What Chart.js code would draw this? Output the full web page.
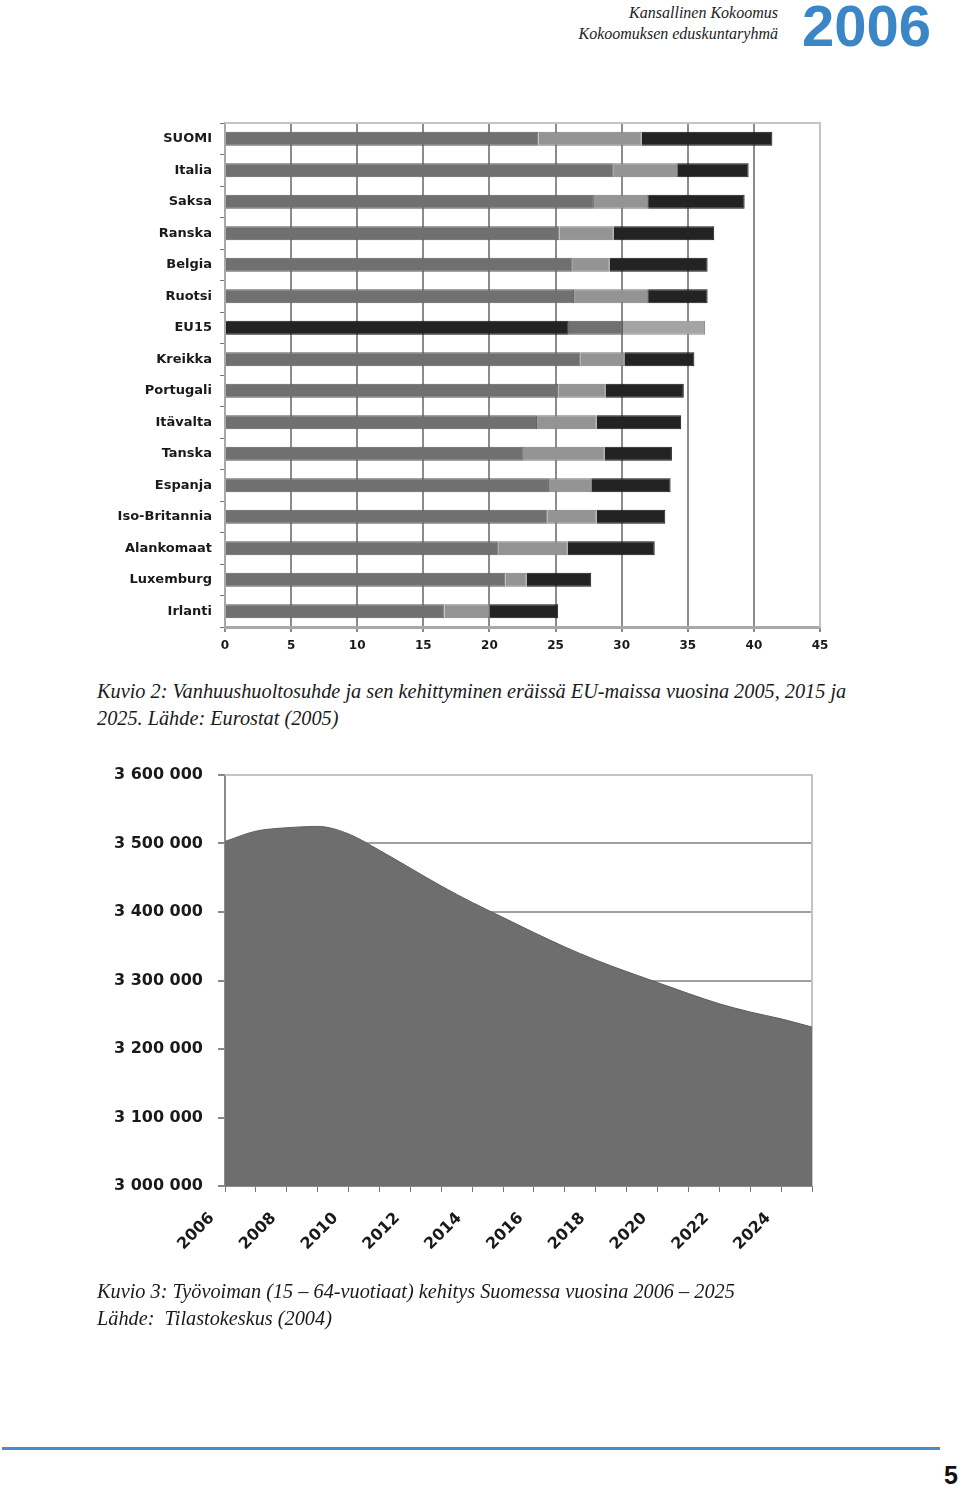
<!DOCTYPE html>
<html lang="fi">
<head>
<meta charset="utf-8">
<title>Kuvio 2 ja Kuvio 3</title>
<script src="https://cdn.jsdelivr.net/npm/chart.js@4.4.1/dist/chart.umd.min.js"></script>
<style>
  body { margin: 0; background: #fff; width: 960px; height: 1486px; position: relative; overflow: hidden; }
  .hdr { position: absolute; right: 182px; font-family: "Liberation Serif", serif; font-style: italic;
         font-size: 16px; line-height: 21px; color: #222; white-space: nowrap; }
  .year { position: absolute; left: 802px; top: -3px; font-family: "Liberation Sans", sans-serif;
          font-weight: bold; font-size: 58px; line-height: 57px; color: #3a86c6; }
  .caption { position: absolute; left: 97px; font-family: "Liberation Serif", serif; font-style: italic;
             font-size: 20.3px; line-height: 27px; color: #1a1a1a; white-space: nowrap; }
  .box { position: absolute; }
  .rule { position: absolute; left: 2px; top: 1447px; width: 938px; height: 3px; background: #4a8bc8; }
  .page { position: absolute; right: 2px; top: 1463px; font-family: "Liberation Sans", sans-serif;
          font-weight: bold; font-size: 25px; line-height: 25px; color: #111; }
</style>
</head>
<body>

<div class="hdr" style="top:2px">Kansallinen Kokoomus</div>
<div class="hdr" style="top:23px">Kokoomuksen eduskuntaryhmä</div>
<div class="year">2006</div>

<div class="box" style="left:100px; top:110px; width:740px; height:560px;">
  <canvas id="ratioChart"></canvas>
</div>

<div class="caption" style="top:678px">Kuvio 2: Vanhuushuoltosuhde ja sen kehittyminen eräissä EU-maissa vuosina 2005, 2015 ja<br>2025. Lähde: Eurostat (2005)</div>

<div class="box" style="left:100px; top:760px; width:740px; height:520px;">
  <canvas id="workChart"></canvas>
</div>

<div class="caption" style="top:1278px">Kuvio 3: Työvoiman (15 – 64-vuotiaat) kehitys Suomessa vuosina 2006 – 2025<br>Lähde:&nbsp; Tilastokeskus (2004)</div>

<div class="rule"></div>
<div class="page">5</div>

<script>
// Kuvio 2: vanhuushuoltosuhde (%), kertyvät arvot 2005 / 2015 / 2025
const countries = ["SUOMI", "Italia", "Saksa", "Ranska", "Belgia", "Ruotsi", "EU15", "Kreikka",
  "Portugali", "Itävalta", "Tanska", "Espanja", "Iso-Britannia", "Alankomaat", "Luxemburg", "Irlanti"];
const ratio2005 = [23.7, 29.4, 27.9, 25.3, 26.3, 26.4, 26.0, 26.9, 25.2, 23.6, 22.6, 24.5, 24.4, 20.7, 21.2, 16.6];
const ratio2015 = [31.5, 34.2, 32.0, 29.4, 29.1, 32.0, 30.1, 30.2, 28.8, 28.1, 28.7, 27.7, 28.1, 25.9, 22.8, 20.0];
const ratio2025 = [41.4, 39.6, 39.3, 37.0, 36.5, 36.5, 36.3, 35.5, 34.7, 34.5, 33.8, 33.7, 33.3, 32.5, 27.7, 25.2];
const ratioTicks = [0, 5, 10, 15, 20, 25, 30, 35, 40, 45];

// Kuvio 3: työvoima 15-64 v.
const years = ["2006", "2007", "2008", "2009", "2010", "2011", "2012", "2013", "2014", "2015",
  "2016", "2017", "2018", "2019", "2020", "2021", "2022", "2023", "2024", "2025"];
const workforce = [3503000, 3518000, 3523000, 3525000, 3514000, 3490000, 3464000, 3438000, 3414000, 3392000,
  3370000, 3349000, 3330000, 3313000, 3297000, 3281000, 3266000, 3254000, 3244000, 3232000];
const workTicks = [3000000, 3100000, 3200000, 3300000, 3400000, 3500000, 3600000];

const tickFont = { family: "DejaVu Sans", weight: "bold", size: 13 };

// thin frame on top and right of the plot area
const plotFrame = {
  id: "plotFrame",
  beforeDatasetsDraw(chart, args, opts) {
    const { ctx, chartArea: a } = chart;
    ctx.save();
    ctx.strokeStyle = opts.color;
    ctx.lineWidth = opts.width;
    ctx.beginPath();
    ctx.moveTo(a.left, a.top);
    ctx.lineTo(a.right, a.top);
    ctx.lineTo(a.right, a.bottom);
    ctx.stroke();
    ctx.restore();
  }
};

// fixed axis sizes so the plot area lands where the layout padding says
function fixY(width) {
  return scale => { scale.width = width; scale.paddingTop = 0; scale.paddingBottom = 0; };
}
function fixX(height) {
  return scale => { scale.height = height; scale.paddingLeft = 0; scale.paddingRight = 0; };
}

const isEU = countries.map(c => c === "EU15");
const step1 = ratio2005;
const step2 = ratio2015.map((v, i) => +(v - ratio2005[i]).toFixed(1));
const step3 = ratio2025.map((v, i) => +(v - ratio2015[i]).toFixed(1));

new Chart(document.getElementById("ratioChart"), {
  type: "bar",
  data: {
    labels: countries,
    datasets: [
      { label: "2005", data: step1, backgroundColor: isEU.map(e => e ? "#232323" : "#707070"),
        borderColor: isEU.map(e => e ? "#151515" : "#5c5c5c"), borderWidth: 1 },
      { label: "2015", data: step2, backgroundColor: isEU.map(e => e ? "#707070" : "#949494"),
        borderColor: isEU.map(e => e ? "#5c5c5c" : "#7a7a7a"), borderWidth: 1 },
      { label: "2025", data: step3, backgroundColor: isEU.map(e => e ? "#a4a4a4" : "#232323"),
        borderColor: isEU.map(e => e ? "#8a8a8a" : "#151515"), borderWidth: 1 }
    ]
  },
  options: {
    indexAxis: "y",
    responsive: true,
    maintainAspectRatio: false,
    animation: false,
    layout: { padding: { top: 13, right: 20, bottom: 0, left: 0 } },
    plugins: {
      legend: { display: false },
      tooltip: { enabled: false },
      plotFrame: { color: "#c4c4c4", width: 2 }
    },
    datasets: { bar: { categoryPercentage: 0.5, barPercentage: 0.9 } },
    scales: {
      x: {
        stacked: true,
        min: 0,
        max: 45,
        afterBuildTicks: scale => { scale.ticks = ratioTicks.map(v => ({ value: v })); },
        afterFit: fixX(43),
        grid: {
          color: ctx => (ctx.tick && ctx.tick.value === 45) ? "#c4c4c4" : "#8c8c8c",
          lineWidth: 2,
          tickLength: 5,
          tickColor: "#888"
        },
        border: { color: "#a8a8a8", width: 3 },
        ticks: { font: { family: "DejaVu Sans", weight: "bold", size: 12 }, color: "#1a1a1a", padding: 7 }
      },
      y: {
        stacked: true,
        afterFit: fixY(125),
        grid: { drawOnChartArea: false, tickLength: 5, color: "#777" },
        border: { color: "#a8a8a8", width: 2 },
        ticks: { font: tickFont, color: "#1a1a1a", padding: 8 }
      }
    }
  },
  plugins: [plotFrame]
});

new Chart(document.getElementById("workChart"), {
  type: "line",
  data: {
    labels: years,
    datasets: [{
      label: "Työvoima",
      data: workforce,
      fill: "start",
      backgroundColor: "#6e6e6e",
      borderColor: "#5e5e5e",
      borderWidth: 1,
      pointRadius: 0,
      cubicInterpolationMode: "monotone"
    }]
  },
  options: {
    responsive: true,
    maintainAspectRatio: false,
    animation: false,
    layout: { padding: { top: 15, right: 28, bottom: 0, left: 0 } },
    plugins: {
      legend: { display: false },
      tooltip: { enabled: false },
      plotFrame: { color: "#c4c4c4", width: 2 }
    },
    scales: {
      x: {
        afterFit: fixX(94),
        grid: { drawOnChartArea: false, tickLength: 6, color: "#777" },
        border: { color: "#8a8a8a", width: 2 },
        ticks: {
          autoSkip: false,
          minRotation: 45,
          maxRotation: 45,
          labelOffset: -13,
          padding: 17,
          font: { family: "DejaVu Sans", weight: "bold", size: 16 },
          color: "#1a1a1a",
          callback: function (value, index) { return index % 2 === 0 ? this.getLabelForValue(value) : ""; }
        }
      },
      y: {
        min: 3000000,
        max: 3600000,
        afterBuildTicks: scale => { scale.ticks = workTicks.map(v => ({ value: v })); },
        afterFit: fixY(125),
        grid: { color: "#a0a0a0", lineWidth: 2, tickLength: 7, tickColor: "#888" },
        border: { color: "#8a8a8a", width: 2 },
        ticks: {
          font: { family: "DejaVu Sans", weight: "bold", size: 16 },
          color: "#1a1a1a",
          padding: 15,
          callback: v => String(v).replace(/\B(?=(\d{3})+(?!\d))/g, " ")
        }
      }
    }
  },
  plugins: [plotFrame]
});
</script>
</body>
</html>
